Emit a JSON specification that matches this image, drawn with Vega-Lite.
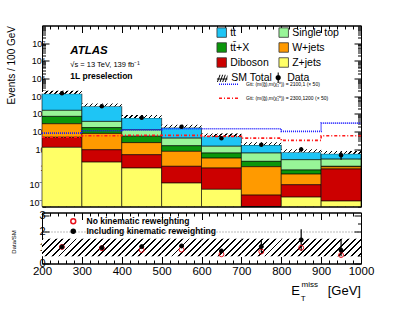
{
  "$schema": "https://vega.github.io/schema/vega-lite/v6.json",
  "autosize": {"type": "pad"},
  "padding": {"left": 5, "top": 21.5, "right": 5, "bottom": 5},
  "background": "white",
  "config": {
    "font": "Liberation Sans",
    "view": {"stroke": "#000", "strokeWidth": 1},
    "axis": {"domainColor": "#000", "tickColor": "#000", "labelColor": "#000", "titleColor": "#000", "labelFont": "Liberation Sans", "titleFont": "Liberation Sans", "tickWidth": 1, "domainWidth": 1, "grid": false, "labelOverlap": false, "labelFlush": false, "labelBound": false},
    "legend": {"labelFont": "Liberation Sans", "labelColor": "#000", "padding": 0, "offset": 0, "labelLimit": 300, "gridAlign": "each"}
  },
  "datasets": {
    "bkg": [
      {"bin": 200, "bin_end": 300, "process": "tt\u0304", "value": 12400},
      {"bin": 200, "bin_end": 300, "process": "Single top", "value": 870},
      {"bin": 200, "bin_end": 300, "process": "tt\u0304+X", "value": 450},
      {"bin": 200, "bin_end": 300, "process": "W+jets", "value": 232},
      {"bin": 200, "bin_end": 300, "process": "Diboson", "value": 35},
      {"bin": 200, "bin_end": 300, "process": "Z+jets", "value": 13},
      {"bin": 300, "bin_end": 400, "process": "tt\u0304", "value": 2320},
      {"bin": 300, "bin_end": 400, "process": "Single top", "value": 210},
      {"bin": 300, "bin_end": 400, "process": "tt\u0304+X", "value": 90},
      {"bin": 300, "bin_end": 400, "process": "W+jets", "value": 70},
      {"bin": 300, "bin_end": 400, "process": "Diboson", "value": 7.6},
      {"bin": 300, "bin_end": 400, "process": "Z+jets", "value": 1.9},
      {"bin": 400, "bin_end": 500, "process": "tt\u0304", "value": 473},
      {"bin": 400, "bin_end": 500, "process": "Single top", "value": 72},
      {"bin": 400, "bin_end": 500, "process": "tt\u0304+X", "value": 31},
      {"bin": 400, "bin_end": 500, "process": "W+jets", "value": 19},
      {"bin": 400, "bin_end": 500, "process": "Diboson", "value": 4.1},
      {"bin": 400, "bin_end": 500, "process": "Z+jets", "value": 0.88},
      {"bin": 500, "bin_end": 600, "process": "tt\u0304", "value": 127},
      {"bin": 500, "bin_end": 600, "process": "Single top", "value": 27},
      {"bin": 500, "bin_end": 600, "process": "tt\u0304+X", "value": 8.3},
      {"bin": 500, "bin_end": 600, "process": "W+jets", "value": 6.6},
      {"bin": 500, "bin_end": 600, "process": "Diboson", "value": 0.975},
      {"bin": 500, "bin_end": 600, "process": "Z+jets", "value": 0.125},
      {"bin": 600, "bin_end": 700, "process": "tt\u0304", "value": 39},
      {"bin": 600, "bin_end": 700, "process": "Single top", "value": 8.8},
      {"bin": 600, "bin_end": 700, "process": "tt\u0304+X", "value": 3.0},
      {"bin": 600, "bin_end": 700, "process": "W+jets", "value": 2.32},
      {"bin": 600, "bin_end": 700, "process": "Diboson", "value": 0.825},
      {"bin": 600, "bin_end": 700, "process": "Z+jets", "value": 0.055},
      {"bin": 700, "bin_end": 800, "process": "tt\u0304", "value": 11.3},
      {"bin": 700, "bin_end": 800, "process": "Single top", "value": 4.1},
      {"bin": 700, "bin_end": 800, "process": "tt\u0304+X", "value": 1.05},
      {"bin": 700, "bin_end": 800, "process": "W+jets", "value": 1.02},
      {"bin": 700, "bin_end": 800, "process": "Diboson", "value": 0.025},
      {"bin": 700, "bin_end": 800, "process": "Z+jets", "value": 0.001},
      {"bin": 800, "bin_end": 900, "process": "tt\u0304", "value": 4.3},
      {"bin": 800, "bin_end": 900, "process": "Single top", "value": 1.92},
      {"bin": 800, "bin_end": 900, "process": "tt\u0304+X", "value": 0.28},
      {"bin": 800, "bin_end": 900, "process": "W+jets", "value": 0.3},
      {"bin": 800, "bin_end": 900, "process": "Diboson", "value": 0.08},
      {"bin": 800, "bin_end": 900, "process": "Z+jets", "value": 0.02},
      {"bin": 900, "bin_end": 1000, "process": "tt\u0304", "value": 2.8},
      {"bin": 900, "bin_end": 1000, "process": "Single top", "value": 1.7},
      {"bin": 900, "bin_end": 1000, "process": "tt\u0304+X", "value": 0.06},
      {"bin": 900, "bin_end": 1000, "process": "W+jets", "value": 0.26},
      {"bin": 900, "bin_end": 1000, "process": "Diboson", "value": 0.768},
      {"bin": 900, "bin_end": 1000, "process": "Z+jets", "value": 0.012}
    ],
    "sig": [
      {"x": 200, "signal": "Gtt: (m(g\u0303),m(\u03c7\u0303\u2081\u2070)) = 2100,1 (\u00d7 50)", "value": 83},
      {"x": 300, "signal": "Gtt: (m(g\u0303),m(\u03c7\u0303\u2081\u2070)) = 2100,1 (\u00d7 50)", "value": 112},
      {"x": 400, "signal": "Gtt: (m(g\u0303),m(\u03c7\u0303\u2081\u2070)) = 2100,1 (\u00d7 50)", "value": 127},
      {"x": 500, "signal": "Gtt: (m(g\u0303),m(\u03c7\u0303\u2081\u2070)) = 2100,1 (\u00d7 50)", "value": 146},
      {"x": 600, "signal": "Gtt: (m(g\u0303),m(\u03c7\u0303\u2081\u2070)) = 2100,1 (\u00d7 50)", "value": 146},
      {"x": 700, "signal": "Gtt: (m(g\u0303),m(\u03c7\u0303\u2081\u2070)) = 2100,1 (\u00d7 50)", "value": 146},
      {"x": 800, "signal": "Gtt: (m(g\u0303),m(\u03c7\u0303\u2081\u2070)) = 2100,1 (\u00d7 50)", "value": 104},
      {"x": 900, "signal": "Gtt: (m(g\u0303),m(\u03c7\u0303\u2081\u2070)) = 2100,1 (\u00d7 50)", "value": 305},
      {"x": 1000, "signal": "Gtt: (m(g\u0303),m(\u03c7\u0303\u2081\u2070)) = 2100,1 (\u00d7 50)", "value": 305},
      {"x": 200, "signal": "Gtt: (m(g\u0303),m(\u03c7\u0303\u2081\u2070)) = 2300,1200 (\u00d7 50)", "value": 48},
      {"x": 300, "signal": "Gtt: (m(g\u0303),m(\u03c7\u0303\u2081\u2070)) = 2300,1200 (\u00d7 50)", "value": 59},
      {"x": 400, "signal": "Gtt: (m(g\u0303),m(\u03c7\u0303\u2081\u2070)) = 2300,1200 (\u00d7 50)", "value": 62},
      {"x": 500, "signal": "Gtt: (m(g\u0303),m(\u03c7\u0303\u2081\u2070)) = 2300,1200 (\u00d7 50)", "value": 62},
      {"x": 600, "signal": "Gtt: (m(g\u0303),m(\u03c7\u0303\u2081\u2070)) = 2300,1200 (\u00d7 50)", "value": 54},
      {"x": 700, "signal": "Gtt: (m(g\u0303),m(\u03c7\u0303\u2081\u2070)) = 2300,1200 (\u00d7 50)", "value": 43},
      {"x": 800, "signal": "Gtt: (m(g\u0303),m(\u03c7\u0303\u2081\u2070)) = 2300,1200 (\u00d7 50)", "value": 32},
      {"x": 900, "signal": "Gtt: (m(g\u0303),m(\u03c7\u0303\u2081\u2070)) = 2300,1200 (\u00d7 50)", "value": 59},
      {"x": 1000, "signal": "Gtt: (m(g\u0303),m(\u03c7\u0303\u2081\u2070)) = 2300,1200 (\u00d7 50)", "value": 59}
    ],
    "obs": [
      {"center": 250, "kind": "Data", "n": 15000, "lo": 14878, "hi": 15122},
      {"center": 350, "kind": "Data", "n": 2700, "lo": 2648, "hi": 2752},
      {"center": 450, "kind": "Data", "n": 620, "lo": 595, "hi": 645},
      {"center": 550, "kind": "Data", "n": 187, "lo": 173, "hi": 201},
      {"center": 650, "kind": "Data", "n": 43, "lo": 36.4, "hi": 49.6},
      {"center": 750, "kind": "Data", "n": 18.5, "lo": 14.2, "hi": 22.8},
      {"center": 850, "kind": "Data", "n": 10, "lo": 7.2, "hi": 13.5},
      {"center": 950, "kind": "Data", "n": 4.7, "lo": 2.6, "hi": 7.6}
    ],
    "ratio": [
      {"center": 250, "method": "No kinematic reweighting", "r": 1.04},
      {"center": 350, "method": "No kinematic reweighting", "r": 0.96},
      {"center": 450, "method": "No kinematic reweighting", "r": 0.85},
      {"center": 550, "method": "No kinematic reweighting", "r": 0.87},
      {"center": 650, "method": "No kinematic reweighting", "r": 0.58},
      {"center": 750, "method": "No kinematic reweighting", "r": 0.75},
      {"center": 850, "method": "No kinematic reweighting", "r": 0.99},
      {"center": 950, "method": "No kinematic reweighting", "r": 0.53},
      {"center": 250, "method": "Including kinematic reweighting", "r": 1.04, "lo": 1.02, "hi": 1.06},
      {"center": 350, "method": "Including kinematic reweighting", "r": 0.99, "lo": 0.96, "hi": 1.02},
      {"center": 450, "method": "Including kinematic reweighting", "r": 1.06, "lo": 1.01, "hi": 1.11},
      {"center": 550, "method": "Including kinematic reweighting", "r": 1.1, "lo": 1.02, "hi": 1.18},
      {"center": 650, "method": "Including kinematic reweighting", "r": 0.79, "lo": 0.67, "hi": 0.91},
      {"center": 750, "method": "Including kinematic reweighting", "r": 1.06, "lo": 0.7, "hi": 1.42},
      {"center": 850, "method": "Including kinematic reweighting", "r": 1.48, "lo": 0.79, "hi": 2.15},
      {"center": 950, "method": "Including kinematic reweighting", "r": 0.83, "lo": 0.45, "hi": 1.52}
    ],
    "band": [
      {"bin": 200, "bin_end": 300, "lo": 0.45, "hi": 1.55},
      {"bin": 300, "bin_end": 400, "lo": 0.45, "hi": 1.55},
      {"bin": 400, "bin_end": 500, "lo": 0.45, "hi": 1.55},
      {"bin": 500, "bin_end": 600, "lo": 0.45, "hi": 1.55},
      {"bin": 600, "bin_end": 700, "lo": 0.45, "hi": 1.55},
      {"bin": 700, "bin_end": 800, "lo": 0.45, "hi": 1.55},
      {"bin": 800, "bin_end": 900, "lo": 0.45, "hi": 1.55},
      {"bin": 900, "bin_end": 1000, "lo": 0.45, "hi": 1.55}
    ]
  },
  "spacing": 6,
  "bounds": "flush",
  "resolve": {
    "scale": {"x": "independent", "y": "independent", "fill": "independent", "stroke": "independent", "strokeDash": "independent", "shape": "independent", "size": "independent"},
    "legend": {"fill": "independent", "stroke": "independent", "strokeDash": "independent", "shape": "independent", "size": "independent"}
  },
  "vconcat": [
    {
      "width": 319,
      "height": 181,
      "resolve": {"axis": {"x": "independent", "y": "independent"}},
      "layer": [
        {
          "data": {"name": "bkg"},
          "transform": [
            {"calculate": "indexof(['Z+jets','Diboson','W+jets','tt\u0304+X','Single top','tt\u0304'], datum.process)", "as": "rank"},
            {"stack": "value", "groupby": ["bin"], "sort": [{"field": "rank", "order": "ascending"}], "as": ["lo", "hi"]},
            {"calculate": "max(datum.lo, 0.001)", "as": "lo"}
          ],
          "mark": {"type": "rect", "stroke": "#000", "strokeWidth": 0.6},
          "encoding": {
            "x": {"field": "bin", "type": "quantitative", "scale": {"domain": [200, 1000], "nice": false, "zero": false},
              "axis": {"orient": "bottom", "title": null, "labels": false, "values": [200,220,240,260,280,300,320,340,360,380,400,420,440,460,480,500,520,540,560,580,600,620,640,660,680,700,720,740,760,780,800,820,840,860,880,900,920,940,960,980,1000],
                "tickSize": {"condition": {"test": "datum.value % 100 === 0", "value": -7}, "value": -3.5}}},
            "x2": {"field": "bin_end"},
            "y": {"field": "hi", "type": "quantitative", "scale": {"type": "log", "domain": [0.0059, 100000000], "clamp": true, "nice": false},
              "axis": {"orient": "left", "values": [0.006,0.007,0.008,0.009,0.01,0.02,0.03,0.04,0.05,0.06,0.07,0.08,0.09,0.1,0.2,0.3,0.4,0.5,0.6,0.7,0.8,0.9,1,2,3,4,5,6,7,8,9,10,20,30,40,50,60,70,80,90,100,200,300,400,500,600,700,800,900,1000,2000,3000,4000,5000,6000,7000,8000,9000,10000,20000,30000,40000,50000,60000,70000,80000,90000,100000,200000,300000,400000,500000,600000,700000,800000,900000,1000000,2000000,3000000,4000000,5000000,6000000,7000000,8000000,9000000,10000000,20000000,30000000,40000000,50000000,60000000,70000000,80000000,90000000],
                "labelExpr": "abs(log(datum.value)/LN10 - round(log(datum.value)/LN10)) < 0.001 ? ['10\u207b\u00b2','10\u207b\u00b9','1','10','10\u00b2','10\u00b3','10\u2074','10\u2075','10\u2076','10\u2077','10\u2078'][round(log(datum.value)/LN10)+2] : ''",
                "labelFontSize": 9, "labelPadding": 4,
                "tickSize": {"condition": {"test": "abs(log(datum.value)/LN10 - round(log(datum.value)/LN10)) < 0.001", "value": -7}, "value": -3.5},
                "title": "Events / 100 GeV", "titleFontSize": 10, "titleFontWeight": "normal", "titleAngle": -90, "titleAlign": "right", "titleBaseline": "alphabetic", "titleX": -28, "titleY": 0}},
            "y2": {"field": "lo"},
            "fill": {"field": "process", "type": "nominal",
              "scale": {"domain": ["tt\u0304", "tt\u0304+X", "Diboson", "Single top", "W+jets", "Z+jets"], "range": ["#1ec5f5", "#0b960b", "#cc0000", "#98f598", "#ff9a00", "#ffff66"]},
              "legend": {"orient": "none", "legendX": 174.2, "legendY": 1.5, "columns": 2, "gridAlign": "each", "title": null, "symbolType": "square", "symbolSize": 90, "symbolStrokeColor": "#333", "symbolStrokeWidth": 0.8, "labelFontSize": 10.5, "labelOffset": 3, "rowPadding": 2, "columnPadding": 8}}
          }
        },
        {
          "data": {"name": "bkg"},
          "transform": [
            {"aggregate": [{"op": "sum", "field": "value", "as": "total"}], "groupby": ["bin", "bin_end"]},
            {"calculate": "datum.total * 1.45", "as": "up"}
          ],
          "mark": {"type": "rect", "fill": {"gradient": "linear", "x1": 0, "y1": 0, "x2": 1.0663, "y2": 0.0765, "stops": [
            {"offset": 0, "color": "#000"}, {"offset": 0.03, "color": "#000"}, {"offset": 0.03, "color": "#fff"},
            {"offset": 0.1166, "color": "#fff"}, {"offset": 0.1166, "color": "#000"}, {"offset": 0.1466, "color": "#000"}, {"offset": 0.1466, "color": "#fff"},
            {"offset": 0.2333, "color": "#fff"}, {"offset": 0.2333, "color": "#000"}, {"offset": 0.2633, "color": "#000"}, {"offset": 0.2633, "color": "#fff"},
            {"offset": 0.3499, "color": "#fff"}, {"offset": 0.3499, "color": "#000"}, {"offset": 0.3799, "color": "#000"}, {"offset": 0.3799, "color": "#fff"},
            {"offset": 0.4665, "color": "#fff"}, {"offset": 0.4665, "color": "#000"}, {"offset": 0.4965, "color": "#000"}, {"offset": 0.4965, "color": "#fff"},
            {"offset": 0.5832, "color": "#fff"}, {"offset": 0.5832, "color": "#000"}, {"offset": 0.6132, "color": "#000"}, {"offset": 0.6132, "color": "#fff"},
            {"offset": 0.6998, "color": "#fff"}, {"offset": 0.6998, "color": "#000"}, {"offset": 0.7298, "color": "#000"}, {"offset": 0.7298, "color": "#fff"},
            {"offset": 0.8164, "color": "#fff"}, {"offset": 0.8164, "color": "#000"}, {"offset": 0.8464, "color": "#000"}, {"offset": 0.8464, "color": "#fff"},
            {"offset": 0.9331, "color": "#fff"}, {"offset": 0.9331, "color": "#000"}, {"offset": 0.9631, "color": "#000"}, {"offset": 0.9631, "color": "#fff"},
            {"offset": 1, "color": "#fff"}]}},
          "encoding": {
            "x": {"field": "bin", "type": "quantitative", "axis": null},
            "x2": {"field": "bin_end"},
            "y": {"field": "up", "type": "quantitative", "axis": null},
            "y2": {"field": "total"}
          }
        },
        {
          "data": {"name": "sig"},
          "mark": {"type": "line", "interpolate": "step-after", "strokeWidth": 1.6},
          "encoding": {
            "x": {"field": "x", "type": "quantitative",
              "axis": {"orient": "top", "title": null, "labels": false, "values": [200,220,240,260,280,300,320,340,360,380,400,420,440,460,480,500,520,540,560,580,600,620,640,660,680,700,720,740,760,780,800,820,840,860,880,900,920,940,960,980,1000],
                "tickSize": {"condition": {"test": "datum.value % 100 === 0", "value": -7}, "value": -3.5}}},
            "y": {"field": "value", "type": "quantitative",
              "axis": {"orient": "right", "title": null, "labels": false, "values": [0.006,0.007,0.008,0.009,0.01,0.02,0.03,0.04,0.05,0.06,0.07,0.08,0.09,0.1,0.2,0.3,0.4,0.5,0.6,0.7,0.8,0.9,1,2,3,4,5,6,7,8,9,10,20,30,40,50,60,70,80,90,100,200,300,400,500,600,700,800,900,1000,2000,3000,4000,5000,6000,7000,8000,9000,10000,20000,30000,40000,50000,60000,70000,80000,90000,100000,200000,300000,400000,500000,600000,700000,800000,900000,1000000,2000000,3000000,4000000,5000000,6000000,7000000,8000000,9000000,10000000,20000000,30000000,40000000,50000000,60000000,70000000,80000000,90000000],
                "tickSize": {"condition": {"test": "abs(log(datum.value)/LN10 - round(log(datum.value)/LN10)) < 0.001", "value": -7}, "value": -3.5}}},
            "stroke": {"field": "signal", "type": "nominal",
              "scale": {"domain": ["Gtt: (m(g\u0303),m(\u03c7\u0303\u2081\u2070)) = 2100,1 (\u00d7 50)", "Gtt: (m(g\u0303),m(\u03c7\u0303\u2081\u2070)) = 2300,1200 (\u00d7 50)"], "range": ["#1a1aff", "#ff1a1a"]},
              "legend": {"orient": "none", "legendX": 176, "legendY": 47.7, "title": null, "symbolType": "stroke", "symbolSize": 400, "symbolStrokeWidth": 1.5, "labelFontSize": 5, "labelOffset": 6, "rowPadding": -0.4}},
            "strokeDash": {"field": "signal", "type": "nominal",
              "scale": {"domain": ["Gtt: (m(g\u0303),m(\u03c7\u0303\u2081\u2070)) = 2100,1 (\u00d7 50)", "Gtt: (m(g\u0303),m(\u03c7\u0303\u2081\u2070)) = 2300,1200 (\u00d7 50)"], "range": [[1, 1], [3, 2, 1, 2]]},
              "legend": {"orient": "none", "legendX": 176, "legendY": 47.7, "title": null, "symbolType": "stroke", "symbolSize": 400, "symbolStrokeWidth": 1.5, "labelFontSize": 5, "labelOffset": 6, "rowPadding": -0.4}}
          }
        },
        {
          "data": {"name": "obs"},
          "mark": {"type": "rule", "color": "#000", "strokeWidth": 1.2},
          "encoding": {
            "x": {"field": "center", "type": "quantitative", "axis": null},
            "y": {"field": "lo", "type": "quantitative", "axis": null},
            "y2": {"field": "hi"}
          }
        },
        {
          "data": {"name": "obs"},
          "mark": {"type": "point", "filled": true, "shape": "circle", "color": "#000", "size": 20, "opacity": 1},
          "encoding": {
            "x": {"field": "center", "type": "quantitative", "axis": null},
            "y": {"field": "n", "type": "quantitative", "axis": null}
          }
        },
        {
          "data": {"name": "obs"},
          "mark": {"type": "point", "filled": true, "color": "#000", "size": 0, "opacity": 1},
          "encoding": {
            "x": {"field": "center", "type": "quantitative", "axis": null},
            "y": {"field": "n", "type": "quantitative", "axis": null},
            "shape": {"field": "kind", "type": "nominal",
              "scale": {"domain": ["SM Total", "Data"], "range": [
                "M-1,0.7L-0.5,-0.7L-0.32,-0.7L-0.82,0.7ZM-0.5,0.7L0,-0.7L0.18,-0.7L-0.32,0.7ZM0,0.7L0.5,-0.7L0.68,-0.7L0.18,0.7ZM0.5,0.7L1,-0.7L1,-0.2L0.68,0.7ZM-1,0.02H1V0.2H-1Z",
                "M0.5,0A0.5,0.5,0,1,1,-0.5,0A0.5,0.5,0,1,1,0.5,0ZM-0.1,-1H0.1V-0.45H-0.1ZM-0.1,0.45H0.1V1H-0.1Z"]},
              "legend": {"orient": "none", "legendX": 174.2, "legendY": 45.75, "columns": 2, "gridAlign": "each", "title": null, "symbolSize": 110, "symbolFillColor": "#000", "symbolOpacity": 1, "labelFontSize": 10.5, "labelOffset": 3, "columnPadding": -3}}
          }
        },
        {
          "data": {"values": [{}]},
          "mark": {"type": "text", "text": "ATLAS", "fontSize": 11.5, "fontWeight": "bold", "fontStyle": "italic", "align": "left", "baseline": "alphabetic", "color": "#000"},
          "encoding": {"x": {"datum": 271, "type": "quantitative", "axis": null}, "y": {"datum": 2450000, "type": "quantitative", "axis": null}}
        },
        {
          "data": {"values": [{}]},
          "mark": {"type": "text", "text": "\u221as = 13 TeV, 139 fb\u207b\u00b9", "fontSize": 7.5, "align": "left", "baseline": "alphabetic", "color": "#000"},
          "encoding": {"x": {"datum": 271, "type": "quantitative", "axis": null}, "y": {"datum": 481000, "type": "quantitative", "axis": null}}
        },
        {
          "data": {"values": [{}]},
          "mark": {"type": "text", "text": "1L preselection", "fontSize": 8.5, "fontWeight": "bold", "align": "left", "baseline": "alphabetic", "color": "#000"},
          "encoding": {"x": {"datum": 271, "type": "quantitative", "axis": null}, "y": {"datum": 101000, "type": "quantitative", "axis": null}}
        }
      ]
    },
    {
      "width": 319,
      "height": 51,
      "resolve": {"axis": {"x": "independent", "y": "independent"}},
      "layer": [
        {
          "data": {"name": "band"},
          "mark": {"type": "rect", "fill": {"gradient": "linear", "x1": 0, "y1": 0, "x2": 1.2064, "y2": 0.5304, "stops": [
            {"offset": 0, "color": "#000"}, {"offset": 0.034, "color": "#000"}, {"offset": 0.034, "color": "#fff"},
            {"offset": 0.1158, "color": "#fff"}, {"offset": 0.1158, "color": "#000"}, {"offset": 0.1498, "color": "#000"}, {"offset": 0.1498, "color": "#fff"},
            {"offset": 0.2315, "color": "#fff"}, {"offset": 0.2315, "color": "#000"}, {"offset": 0.2655, "color": "#000"}, {"offset": 0.2655, "color": "#fff"},
            {"offset": 0.3473, "color": "#fff"}, {"offset": 0.3473, "color": "#000"}, {"offset": 0.3813, "color": "#000"}, {"offset": 0.3813, "color": "#fff"},
            {"offset": 0.4631, "color": "#fff"}, {"offset": 0.4631, "color": "#000"}, {"offset": 0.4971, "color": "#000"}, {"offset": 0.4971, "color": "#fff"},
            {"offset": 0.5788, "color": "#fff"}, {"offset": 0.5788, "color": "#000"}, {"offset": 0.6128, "color": "#000"}, {"offset": 0.6128, "color": "#fff"},
            {"offset": 0.6946, "color": "#fff"}, {"offset": 0.6946, "color": "#000"}, {"offset": 0.7286, "color": "#000"}, {"offset": 0.7286, "color": "#fff"},
            {"offset": 0.8104, "color": "#fff"}, {"offset": 0.8104, "color": "#000"}, {"offset": 0.8444, "color": "#000"}, {"offset": 0.8444, "color": "#fff"},
            {"offset": 0.9262, "color": "#fff"}, {"offset": 0.9262, "color": "#000"}, {"offset": 0.9602, "color": "#000"}, {"offset": 0.9602, "color": "#fff"},
            {"offset": 1, "color": "#fff"}]}},
          "encoding": {
            "x": {"field": "bin", "type": "quantitative", "scale": {"domain": [200, 1000], "nice": false, "zero": false},
              "axis": {"orient": "bottom", "title": null, "format": "d", "values": [200,220,240,260,280,300,320,340,360,380,400,420,440,460,480,500,520,540,560,580,600,620,640,660,680,700,720,740,760,780,800,820,840,860,880,900,920,940,960,980,1000],
                "labelExpr": "datum.value % 100 === 0 ? datum.label : ''", "labelFontSize": 11.5, "labelPadding": 9,
                "tickSize": {"condition": {"test": "datum.value % 100 === 0", "value": -7}, "value": -3.5}}},
            "x2": {"field": "bin_end"},
            "y": {"field": "hi", "type": "quantitative", "scale": {"domain": [0, 3.2], "nice": false},
              "axis": {"orient": "left", "values": [0, 0.5, 1, 1.5, 2, 2.5, 3], "format": "d", "labelExpr": "datum.value % 1 === 0 ? datum.label : ''", "labelFontSize": 11, "labelPadding": 4,
                "tickSize": {"condition": {"test": "datum.value % 1 === 0", "value": -7}, "value": -3.5},
                "grid": true, "gridDash": [1, 2], "gridColor": "#777", "gridOpacity": {"condition": {"test": "datum.value === 1 || datum.value === 2", "value": 1}, "value": 0},
                "title": "Data/SM", "titleFontSize": 6, "titleFontWeight": "normal", "titleAngle": -90, "titleAlign": "center", "titleBaseline": "alphabetic", "titleX": -27, "titleY": 29}},
            "y2": {"field": "lo"}
          }
        },
        {
          "data": {"name": "ratio"},
          "transform": [{"filter": "datum.method === 'Including kinematic reweighting'"}],
          "mark": {"type": "rule", "color": "#000", "strokeWidth": 1.2},
          "encoding": {
            "x": {"field": "center", "type": "quantitative",
              "axis": {"orient": "top", "title": null, "labels": false, "values": [200,220,240,260,280,300,320,340,360,380,400,420,440,460,480,500,520,540,560,580,600,620,640,660,680,700,720,740,760,780,800,820,840,860,880,900,920,940,960,980,1000],
                "tickSize": {"condition": {"test": "datum.value % 100 === 0", "value": -7}, "value": -3.5}}},
            "y": {"field": "lo", "type": "quantitative",
              "axis": {"orient": "right", "title": null, "labels": false, "values": [0, 0.5, 1, 1.5, 2, 2.5, 3],
                "tickSize": {"condition": {"test": "datum.value % 1 === 0", "value": -7}, "value": -3.5}}},
            "y2": {"field": "hi"}
          }
        },
        {
          "data": {"name": "ratio"},
          "mark": {"type": "point", "filled": true, "strokeWidth": 1, "opacity": 1},
          "encoding": {
            "x": {"field": "center", "type": "quantitative", "axis": null},
            "y": {"field": "r", "type": "quantitative", "axis": null},
            "fill": {"field": "method", "type": "nominal",
              "scale": {"domain": ["No kinematic reweighting", "Including kinematic reweighting"], "range": ["transparent", "#000"]},
              "legend": {"orient": "none", "legendX": 27, "legendY": 4.5, "title": null, "labelFontSize": 8.5, "labelFontWeight": "bold", "labelOffset": 9, "rowPadding": -4.5}},
            "stroke": {"field": "method", "type": "nominal",
              "scale": {"domain": ["No kinematic reweighting", "Including kinematic reweighting"], "range": ["#e8101a", "#000"]},
              "legend": {"orient": "none", "legendX": 27, "legendY": 4.5, "title": null, "labelFontSize": 8.5, "labelFontWeight": "bold", "labelOffset": 9, "rowPadding": -4.5}},
            "size": {"field": "method", "type": "nominal",
              "scale": {"domain": ["No kinematic reweighting", "Including kinematic reweighting"], "range": [24, 16]},
              "legend": {"orient": "none", "legendX": 27, "legendY": 4.5, "title": null, "labelFontSize": 8.5, "labelFontWeight": "bold", "labelOffset": 9, "rowPadding": -4.5}}
          }
        },
        {
          "data": {"values": [{}]},
          "mark": {"type": "text", "text": "E", "fontSize": 13, "align": "left", "baseline": "alphabetic", "color": "#000"},
          "encoding": {"x": {"datum": 825, "type": "quantitative", "axis": null}, "y": {"datum": -2.007, "type": "quantitative", "axis": null}}
        },
        {
          "data": {"values": [{}]},
          "mark": {"type": "text", "text": "miss", "fontSize": 8, "align": "left", "baseline": "alphabetic", "color": "#000"},
          "encoding": {"x": {"datum": 851, "type": "quantitative", "axis": null}, "y": {"datum": -1.474, "type": "quantitative", "axis": null}}
        },
        {
          "data": {"values": [{}]},
          "mark": {"type": "text", "text": "T", "fontSize": 8, "align": "left", "baseline": "alphabetic", "color": "#000"},
          "encoding": {"x": {"datum": 849, "type": "quantitative", "axis": null}, "y": {"datum": -2.34, "type": "quantitative", "axis": null}}
        },
        {
          "data": {"values": [{}]},
          "mark": {"type": "text", "text": "[GeV]", "fontSize": 13, "align": "right", "baseline": "alphabetic", "color": "#000"},
          "encoding": {"x": {"datum": 1000, "type": "quantitative", "axis": null}, "y": {"datum": -2.007, "type": "quantitative", "axis": null}}
        }
      ]
    }
  ]
}
